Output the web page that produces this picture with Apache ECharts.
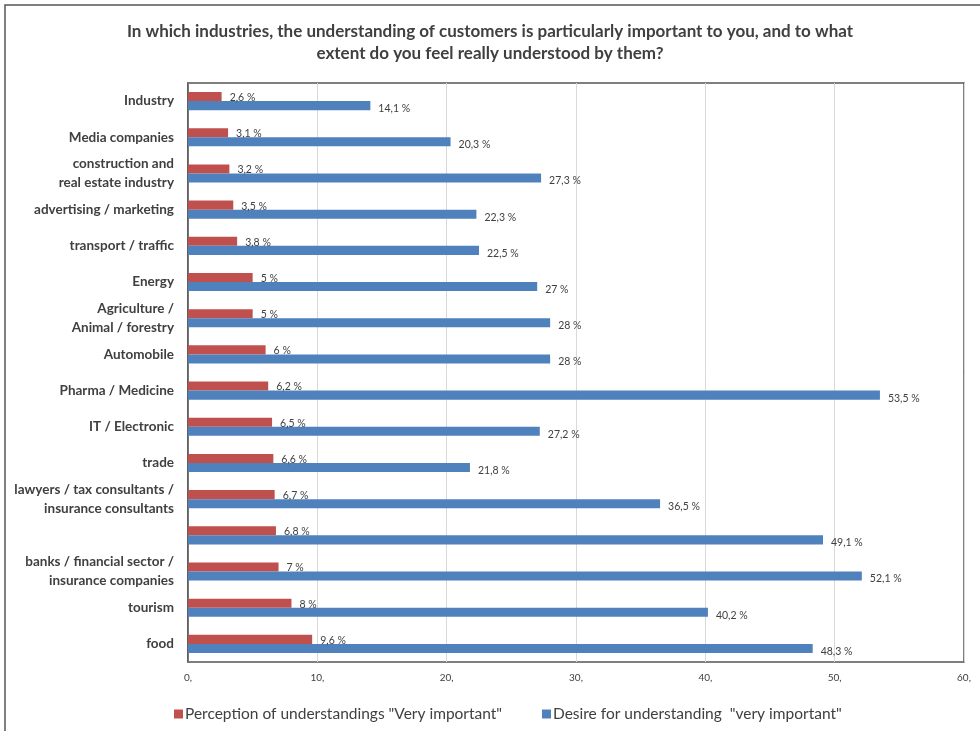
<!DOCTYPE html>
<html>
<head>
<meta charset="utf-8">
<script src="https://cdn.jsdelivr.net/npm/echarts@6/dist/echarts.min.js"></script>
<style>
html,body{margin:0;padding:0;background:#fff;}
#c{width:980px;height:731px;}
</style>
</head>
<body>
<div id="c"></div>
<script>
const categories = [
  "Industry","Media companies","construction and\nreal estate industry","advertising / marketing",
  "transport / traffic","Energy","Agriculture /\nAnimal / forestry","Automobile",
  "Pharma / Medicine","IT / Electronic","trade","lawyers / tax consultants /\ninsurance consultants",
  "","banks / financial sector /\ninsurance companies","tourism","food"
];
const perception = [2.6,3.1,3.2,3.5,3.8,5,5,6,6.2,6.5,6.6,6.7,6.8,7,8,9.6];
const desire = [14.1,20.3,27.3,22.3,22.5,27,28,28,53.5,27.2,21.8,36.5,49.1,52.1,40.2,48.3];
const xTicks = [0,10,20,30,40,50,60];
const seriesNames = ['Perception of understandings "Very important"','Desire for understanding  "very important"'];
const titleText = "In which industries, the understanding of customers is particularly important to you, and to what\nextent do you feel really understood by them?";

const FONT = 'Lato';
const fmt = v => String(v).replace('.', ',') + ' %';

const chart = echarts.init(document.getElementById('c'));
chart.setOption({
  animation:false,
  backgroundColor:'#fff',
  textStyle:{fontFamily:FONT},
  title:{
    text:titleText, left:'center', top:16,
    textStyle:{fontFamily:FONT,fontSize:17,fontWeight:'bold',color:'#404040',lineHeight:22}
  },
  graphic:[{
    type:'rect', shape:{x:5,y:5,width:1000,height:760},
    style:{fill:'none',stroke:'#555',lineWidth:1.5}, silent:true
  }],
  legend:[{
    data:[seriesNames[0]], left:169, top:701, itemWidth:9, itemHeight:9, icon:'rect', itemGap:4,
    textStyle:{fontFamily:FONT,fontSize:15.5,color:'#404040',padding:[0,0,0,-3]}
  },{
    data:[seriesNames[1]], left:537, top:701, itemWidth:9, itemHeight:9, icon:'rect',
    textStyle:{fontFamily:FONT,fontSize:15.5,color:'#404040',padding:[0,0,0,-3]}
  }],
  grid:{left:188,right:16,top:83,bottom:69,show:true,borderColor:'#555',borderWidth:1.5,containLabel:false},
  xAxis:{
    type:'value', min:0, max:60, interval:10,
    axisLine:{show:false}, axisTick:{show:false},
    splitLine:{lineStyle:{color:'#d9d9d9',width:1}},
    axisLabel:{formatter:v=>xTicks.includes(v)?v+',':'', fontFamily:FONT,fontSize:10,color:'#404040',margin:11}
  },
  yAxis:{
    type:'category', data:categories, inverse:true,
    axisLine:{show:true,lineStyle:{color:'#555',width:1.5}}, axisTick:{show:false},
    axisLabel:{fontFamily:FONT,fontSize:13.5,fontWeight:'bold',color:'#404040',margin:14,lineHeight:19,align:'right'}
  },
  series:[{
    name:seriesNames[0], type:'bar', data:perception, barGap:'0%', barCategoryGap:'50%',
    itemStyle:{color:'#c0504d'},
    label:{show:true,position:'right',distance:8,offset:[0,1],formatter:p=>fmt(p.value),fontFamily:FONT,fontSize:10.5,color:'#404040'}
  },{
    name:seriesNames[1], type:'bar', data:desire, barGap:'0%', barCategoryGap:'50%',
    itemStyle:{color:'#4f81bd'},
    label:{show:true,position:'right',distance:8,offset:[0,3],formatter:p=>fmt(p.value),fontFamily:FONT,fontSize:10.5,color:'#404040'}
  }]
});
</script>
</body>
</html>
